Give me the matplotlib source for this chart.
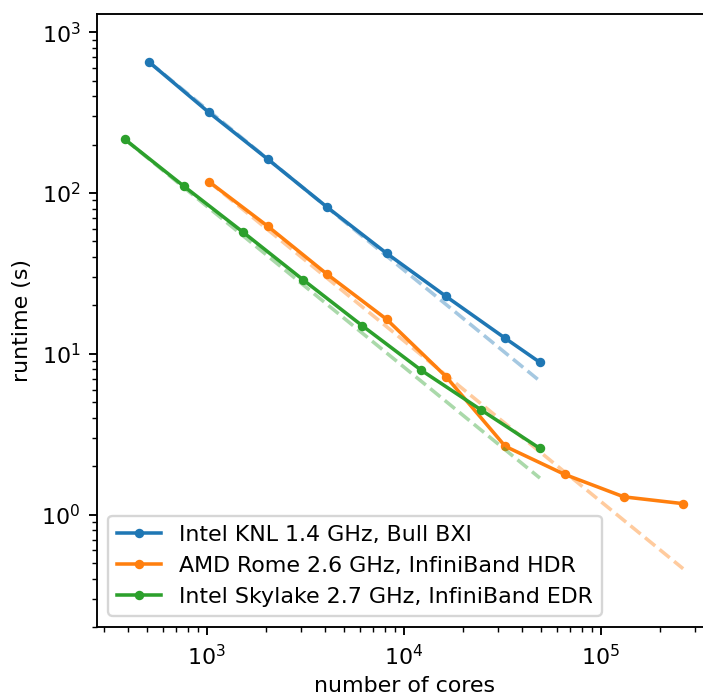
import numpy as np
import matplotlib
matplotlib.use("Agg")
import matplotlib.pyplot as plt

# Strong-scaling runtimes on three machines
knl_cores = [512, 1024, 2048, 4096, 8192, 16384, 32768, 49152]
knl_runtime = [650, 318, 162, 81.5, 42.2, 22.8, 12.5, 8.85]

rome_cores = [1024, 2048, 4096, 8192, 16384, 32768, 65536, 131072, 262144]
rome_runtime = [118, 62, 31.2, 16.4, 7.23, 2.66, 1.78, 1.29, 1.17]

skl_cores = [384, 768, 1536, 3072, 6144, 12288, 24576, 49152]
skl_runtime = [216, 110, 56.9, 29.0, 15.0, 7.9, 4.5, 2.58]

labels = [
    "Intel KNL 1.4 GHz, Bull BXI",
    "AMD Rome 2.6 GHz, InfiniBand HDR",
    "Intel Skylake 2.7 GHz, InfiniBand EDR",
]
colors = ["tab:blue", "tab:orange", "tab:green"]

plt.rcParams["font.size"] = 9.4

W, H, DPI = 703, 695, 170
fig = plt.figure(figsize=(W / DPI, H / DPI), dpi=DPI)
left, right, top, bottom = 97 / W, 711 / W, 14 / H, 627 / H
ax = fig.add_axes([left, 1 - bottom, right - left, bottom - top])

series = [(knl_cores, knl_runtime), (rome_cores, rome_runtime), (skl_cores, skl_runtime)]
for (x, y), lab, c in zip(series, labels, colors):
    x = np.asarray(x, float)
    y = np.asarray(y, float)
    # ideal scaling from the smallest run
    ideal = y[0] * x[0] / x
    ax.plot(x, ideal, "--", color=c, alpha=0.4)
    ax.plot(x, y, ".-", color=c, label=lab)

ax.set_xscale("log")
ax.set_yscale("log")
ax.set_xlim(10 ** 2.443, 10 ** 5.560)
ax.set_ylim(0.2, 1300)
ax.set_xlabel("number of cores", labelpad=3)
ax.set_ylabel("runtime (s)")
ax.legend(loc="lower left")

fig.savefig("out.png", dpi=DPI)
